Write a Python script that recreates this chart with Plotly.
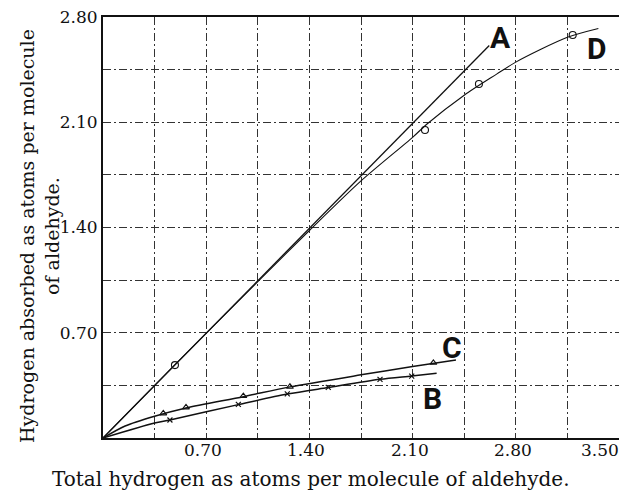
import plotly.graph_objects as go

# ---- data ----
a_x = [0.0, 2.62]
a_y = [0.0, 2.61]

d_curve_x = [0.0, 0.49, 1.05, 1.40, 1.75, 2.10, 2.20, 2.45, 2.67, 2.80, 3.15, 3.36]
d_curve_y = [0.0, 0.49, 1.04, 1.38, 1.71, 2.00, 2.09, 2.28, 2.42, 2.50, 2.665, 2.724]
d_pts_x = [0.488, 2.184, 2.55, 3.186]
d_pts_y = [0.485, 2.048, 2.354, 2.68]

c_curve_x = [0.0, 0.15, 0.35, 0.563, 0.952, 1.268, 1.75, 2.10, 2.394]
c_curve_y = [0.0, 0.08, 0.145, 0.20, 0.275, 0.34, 0.42, 0.475, 0.519]
c_pts_x = [0.409, 0.563, 0.952, 1.268, 2.241]
c_pts_y = [0.164, 0.204, 0.279, 0.341, 0.50]

b_curve_x = [0.0, 0.35, 0.454, 0.918, 1.25, 1.528, 1.879, 2.094, 2.263]
b_curve_y = [0.0, 0.10, 0.12, 0.222, 0.292, 0.336, 0.39, 0.412, 0.43]
b_pts_x = [0.454, 0.918, 1.25, 1.528, 1.879, 2.094]
b_pts_y = [0.12, 0.224, 0.293, 0.337, 0.39, 0.412]

x_grid_vals = [0.0, 0.35, 0.70, 1.05, 1.40, 1.75, 2.10, 2.45, 2.80, 3.15, 3.50]
y_grid_vals = [0.0, 0.35, 0.70, 1.05, 1.40, 1.75, 2.10, 2.45, 2.80]
y_grid_text = ["", "", "0.70", "", "1.40", "", "2.10", "", "2.80"]
x_tick_vals = [0.70, 1.40, 2.10, 2.80, 3.50]
x_tick_text = ["0.70", "1.40", "2.10", "2.80", "3.50"]

curve_labels = [("A", 2.693, 2.666), ("D", 3.351, 2.593), ("C", 2.367, 0.605), ("B", 2.232, 0.266)]

SERIF = "DejaVu Serif"
INK = "#111111"

fig = go.Figure()
fig.add_trace(go.Scatter(x=a_x, y=a_y, mode="lines", line=dict(color=INK, width=1.3), hoverinfo="skip"))
fig.add_trace(go.Scatter(x=d_curve_x, y=d_curve_y, mode="lines", line=dict(color=INK, width=1.1, shape="spline", smoothing=0.8), hoverinfo="skip"))
fig.add_trace(go.Scatter(x=c_curve_x, y=c_curve_y, mode="lines", line=dict(color=INK, width=1.5, shape="spline", smoothing=0.8), hoverinfo="skip"))
fig.add_trace(go.Scatter(x=b_curve_x, y=b_curve_y, mode="lines", line=dict(color=INK, width=1.5, shape="spline", smoothing=0.8), hoverinfo="skip"))
fig.add_trace(go.Scatter(x=d_pts_x, y=d_pts_y, mode="markers",
                         marker=dict(symbol="circle-open", size=7, color=INK, line=dict(width=1.1, color=INK))))
fig.add_trace(go.Scatter(x=c_pts_x, y=c_pts_y, mode="markers",
                         marker=dict(symbol="triangle-up-open", size=6, color=INK, line=dict(width=1.1, color=INK))))
fig.add_trace(go.Scatter(x=b_pts_x, y=b_pts_y, mode="markers",
                         marker=dict(symbol="x-thin", size=5, color=INK, line=dict(width=1.2, color=INK))))

annotations = []
for i, (v, t) in enumerate(zip(x_tick_vals, x_tick_text)):
    last = i == len(x_tick_vals) - 1
    annotations.append(dict(x=v, y=0, xref="x", yref="paper", text=t, showarrow=False,
                            xanchor="right" if last else "center", yanchor="middle",
                            xshift=2 if last else -3, yshift=-12,
                            font=dict(family=SERIF, size=17, color=INK)))
for name, lx, ly in curve_labels:
    annotations.append(dict(x=lx, y=ly, xref="x", yref="y", text="<b>" + name + "</b>", showarrow=False,
                            font=dict(family="Roboto, Liberation Sans, DejaVu Sans", size=30, color=INK)))
annotations.append(dict(x=0.403, y=-0.097, xref="paper", yref="paper",
                        text="Total hydrogen as atoms per molecule of aldehyde.", showarrow=False,
                        xanchor="center", yanchor="middle", font=dict(family=SERIF, size=20, color=INK)))
annotations.append(dict(x=-0.122, y=0.48, xref="paper", yref="paper",
                        text="Hydrogen absorbed as atoms per molecule<br>of aldehyde.", showarrow=False,
                        textangle=-90, xanchor="center", yanchor="middle",
                        font=dict(family=SERIF, size=19, color=INK)))

# the page adds an 8px body margin, so the figure is sized to end at the window edge
fig.update_layout(
    width=619, height=487,
    margin=dict(l=95, r=8, t=9, b=57, autoexpand=False),
    paper_bgcolor="white", plot_bgcolor="white",
    showlegend=False,
    annotations=annotations,
)
fig.update_xaxes(range=[0, 3.5], tickvals=x_grid_vals, showticklabels=False, ticks="", automargin=False,
                 showgrid=True, gridcolor="#333333", gridwidth=1, griddash="8px,3px,2px,3px",
                 showline=True, linecolor=INK, linewidth=2, mirror=True, zeroline=False)
fig.update_yaxes(range=[0, 2.8], tickvals=y_grid_vals, ticktext=y_grid_text, automargin=False,
                 ticks="", ticklabelstandoff=0, ticklabeloverflow="allow",
                 tickfont=dict(family=SERIF, size=17, color=INK),
                 showgrid=True, gridcolor="#333333", gridwidth=1, griddash="8px,3px,2px,3px",
                 showline=True, linecolor=INK, linewidth=2, mirror=True, zeroline=False)

fig.write_html("out.html")
